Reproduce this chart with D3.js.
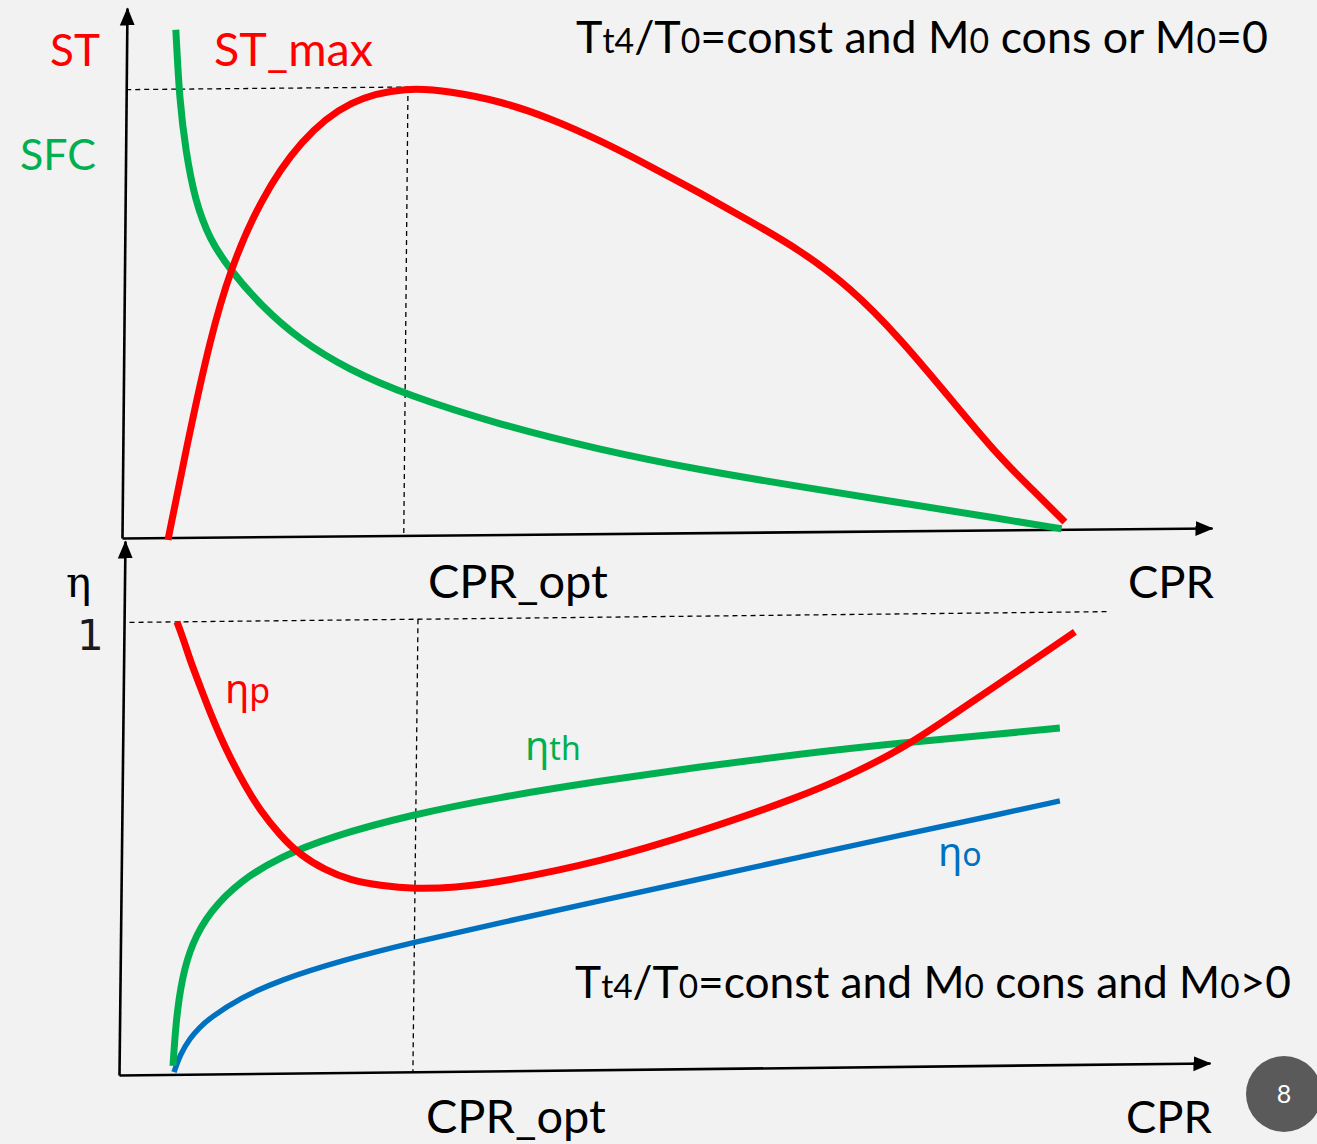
<!DOCTYPE html>
<html>
<head>
<meta charset="utf-8">
<script src="https://cdn.jsdelivr.net/npm/d3@7"></script>
<style>
  html, body { margin: 0; padding: 0; background: #f2f2f2; }
  svg { display: block; }
  text { font-family: Lato, "Noto Sans", sans-serif; }
</style>
</head>
<body>
<svg id="chart" width="1317" height="1144"></svg>
<script>
// ---- Upper panel: specific thrust (ST) and SFC vs compressor pressure ratio ----
const stCPR    = [4.22, 6.15, 7.90, 9.68, 12.37, 15.99, 20.54, 25.85, 29.71, 34.30, 38.90, 43.51, 48.12, 52.73, 57.34, 61.95, 66.57, 71.2, 75.84, 80.48, 83.72, 86.5];
const stValues = [-0.45, 20.26, 37.2, 50.4, 63.5, 74.8, 82.5, 84.6, 83.7, 81.8, 78.5, 74.2, 69.26, 64.1, 58.7, 53.17, 46.09, 36.38, 24.98, 13.57, 7.09, 1.38];

const sfcCPR    = [4.5, 4.9, 5.5, 6.4, 7.8, 9.7, 12.5, 16.1, 20.7, 26.0, 34.6, 43.8, 53.0, 62.2, 71.4, 80.6, 86.2];
const sfcValues = [95.8, 82.5, 73.1, 63.6, 56.1, 50.4, 43.7, 37.1, 31.3, 26.5, 20.7, 15.8, 11.8, 8.5, 5.3, 2.1, 0.1];

// ---- Lower panel: efficiencies vs compressor pressure ratio ----
const etaPCPR = [4.85, 5.51, 6.09, 7.02, 7.96, 8.91, 9.84, 11.25, 12.65, 14.51, 16.36, 18.67, 20.97, 23.73, 26.94, 30.6, 34.72, 43.86, 52.99, 62.13, 66.7, 71.26, 75.8, 80.35, 83.99, 87.17];
const etaP    = [1.000, 0.958, 0.915, 0.858, 0.800, 0.747, 0.700, 0.636, 0.582, 0.526, 0.482, 0.448, 0.425, 0.412, 0.404, 0.406, 0.417, 0.459, 0.523, 0.598, 0.645, 0.699, 0.771, 0.845, 0.904, 0.956];

const etaThCPR = [4.94, 5.17, 5.67, 6.55, 8.18, 10.90, 14.54, 19.09, 26.5, 34.64, 43.79, 52.94, 62.09, 71.25, 80.40, 85.89];
const etaTh    = [0.019, 0.120, 0.213, 0.290, 0.360, 0.426, 0.478, 0.521, 0.568, 0.605, 0.638, 0.667, 0.693, 0.715, 0.732, 0.744];

const etaOCPR = [5.04, 5.57, 6.47, 7.38, 8.29, 11.0, 14.66, 20.14, 26.99, 34.77, 43.9, 53.05, 62.2, 71.35, 80.49, 85.97];
const etaO    = [0.005, 0.043, 0.080, 0.104, 0.124, 0.167, 0.206, 0.247, 0.287, 0.327, 0.373, 0.419, 0.465, 0.511, 0.555, 0.583];

const etaRef = 1;        // reference level marked "1"
const etaRefEnd = 90.4;  // extent of the reference dashed line

const RED = "#ff0000", GREEN = "#00b050", BLUE = "#0070c0";

const svg = d3.select("#chart");
svg.append("rect").attr("width", 1317).attr("height", 1144).attr("fill", "#f2f2f2");

const defs = svg.append("defs");
defs.append("marker")
  .attr("id", "arrow").attr("markerUnits", "userSpaceOnUse")
  .attr("viewBox", "0 -8 18 16").attr("refX", 17).attr("refY", 0)
  .attr("markerWidth", 18).attr("markerHeight", 16).attr("orient", "auto")
  .append("path").attr("d", "M0,-7.5L18,0L0,7.5Z").attr("fill", "#000");

// hand-drawn axes lean slightly; a small shear about each origin reproduces that
function panel(ox, oy, kx, ky) {
  return svg.append("g")
    .attr("transform", `translate(${ox},${oy}) matrix(1,${-ky},${-kx},1,0,0) translate(${-ox},${-oy})`);
}

function drawAxes(g, x, y) {
  const gx = g.append("g").attr("transform", `translate(0,${y(0)})`)
    .call(d3.axisBottom(x).tickValues([]).tickSizeOuter(0));
  const gy = g.append("g").attr("transform", `translate(${x(0)},0)`)
    .call(d3.axisLeft(y).tickValues([]).tickSizeOuter(0));
  [gx, gy].forEach(a => a.select(".domain")
    .attr("stroke", "#000").attr("stroke-width", 2.6).attr("marker-end", "url(#arrow)"));
}

function curve(g, x, y, xs, ys, color, w) {
  const line = d3.line().x(d => x(d[0])).y(d => y(d[1])).curve(d3.curveBasis);
  g.append("path").datum(d3.zip(xs, ys)).attr("d", line)
    .attr("fill", "none").attr("stroke", color).attr("stroke-width", w)
    .attr("stroke-linecap", "butt").attr("stroke-linejoin", "round");
}

function dashed(g, x1, y1, x2, y2) {
  g.append("line").attr("x1", x1).attr("y1", y1).attr("x2", x2).attr("y2", y2)
    .attr("stroke", "#000").attr("stroke-width", 1.3).attr("stroke-dasharray", "5,4");
}

// ---------- upper panel ----------
const xUp = d3.scaleLinear().domain([0, 100]).range([122, 1212]);
const yUp = d3.scaleLinear().domain([0, 100]).range([538, 8]);
const upper = panel(122, 538, 0.0094, 0.0092);

const iMax = d3.maxIndex(stValues);
const cprOptUp = stCPR[iMax], stMax = stValues[iMax];
dashed(upper, xUp(0), yUp(stMax), xUp(cprOptUp), yUp(stMax));
dashed(upper, xUp(cprOptUp), yUp(stMax), xUp(cprOptUp), yUp(0));
drawAxes(upper, xUp, yUp);
curve(upper, xUp, yUp, sfcCPR, sfcValues, GREEN, 7);
curve(upper, xUp, yUp, stCPR, stValues, RED, 7);

// ---------- lower panel ----------
const xLo = d3.scaleLinear().domain([0, 100]).range([119, 1210]);
const yLo = d3.scaleLinear().domain([0, 1.18]).range([1075, 541]);
const lower = panel(119, 1075, 0.0112, 0.011);

const iMin = d3.minIndex(etaP);
const cprOptLo = etaPCPR[iMin];
dashed(lower, xLo(0.5), yLo(etaRef), xLo(etaRefEnd), yLo(etaRef));
dashed(lower, xLo(cprOptLo), yLo(etaRef), xLo(cprOptLo), yLo(0));
drawAxes(lower, xLo, yLo);
curve(lower, xLo, yLo, etaOCPR, etaO, BLUE, 5.5);
curve(lower, xLo, yLo, etaThCPR, etaTh, GREEN, 7);
curve(lower, xLo, yLo, etaPCPR, etaP, RED, 7);

// ---------- labels ----------
// each label is a run of pieces; optional width scales the whole run to fit
function label(x, y, parts, color, size, family, width) {
  const t = svg.append("text").attr("x", x).attr("y", y).attr("fill", color);
  if (family) t.style("font-family", family);
  const spans = parts.map(p => t.append("tspan").text(p[0]));
  const apply = k => {
    t.attr("font-size", size * k);
    spans.forEach((s, i) => s.attr("font-size", (parts[i][1] || size) * k));
  };
  apply(1);
  if (width) apply(width / t.node().getComputedTextLength());
  return t;
}

label(50, 66, [["ST"]], RED, 46, null, 50);
label(214, 66, [["ST_max"]], RED, 46, null, 159);
label(20, 170, [["SFC"]], GREEN, 46, null, 76);

label(576, 53, [["T"], ["t4", 34], ["/T"], ["0", 34], ["=const and M"], ["0", 34], [" cons or M"], ["0", 34], ["=0"]],
  "#000", 45, null, 692);
label(575, 998, [["T"], ["t4", 34], ["/T"], ["0", 34], ["=const and M"], ["0", 34], [" cons and M"], ["0", 34], [">0"]],
  "#000", 45, null, 716);

label(66, 597, [["η"]], "#000", 42, "'DejaVu Serif', serif");
label(77, 650, [["1"]], "#1a1a1a", 42, "'DejaVu Sans', sans-serif");

label(428, 598, [["CPR_opt"]], "#000", 45, null, 180);
label(1128, 598, [["CPR"]], "#000", 45, null, 86);
label(426, 1133, [["CPR_opt"]], "#000", 45, null, 180);
label(1126, 1133, [["CPR"]], "#000", 45, null, 86);

label(225, 703, [["η"], ["p", 34]], RED, 40, "'Noto Sans', sans-serif");
label(525, 760, [["η"], ["th", 32]], GREEN, 40, "'Noto Sans', sans-serif");
label(938, 866, [["η"], ["o", 32]], BLUE, 40, "'Noto Sans', sans-serif");

// page number badge
svg.append("circle").attr("cx", 1284).attr("cy", 1094).attr("r", 38).attr("fill", "#5a5a5a");
svg.append("text").attr("x", 1284).attr("y", 1103).attr("text-anchor", "middle")
  .attr("fill", "#fff").attr("font-size", 25).text("8");
</script>
</body>
</html>
